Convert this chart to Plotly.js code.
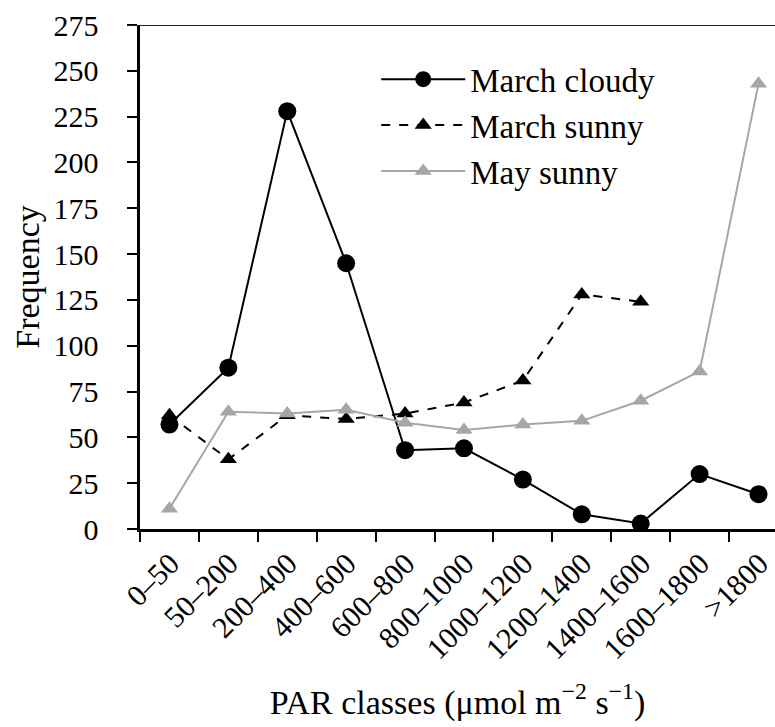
<!DOCTYPE html>
<html>
<head>
<meta charset="utf-8">
<script src="https://cdn.plot.ly/plotly-3.0.1.min.js"></script>
<style>html,body{margin:0;padding:0;background:#fff;}#chart{width:775px;height:727px;}</style>
</head>
<body>
<div id="chart"></div>
<script>
const categories = ["0–50","50–200","200–400","400–600","600–800","800–1000","1000–1200","1200–1400","1400–1600","1600–1800",">1800"];
const marchCloudy = [57, 88, 228, 145, 43, 44, 27, 8, 3, 30, 19];
const marchSunny = [62, 38, 62, 60, 63, 69, 81, 128, 124, null, null];
const maySunny = [11, 64, 63, 65, 58, 54, 57, 59, 70, 86, 243];
const yTicks = [0,25,50,75,100,125,150,175,200,225,250,275];

const serif = "Liberation Serif, Times New Roman, serif";
const pad = "\u00a0\u00a0\u00a0";

const traces = [
  {x: categories, y: marchCloudy, name: "March cloudy", legendgroup: "a", type: "scatter", mode: "lines+markers",
   line: {color: "#000", width: 2}, marker: {symbol: "circle", size: 18, color: "#000"}},
  {x: categories, y: marchSunny, name: "March sunny", legendgroup: "b", type: "scatter", mode: "lines+markers",
   line: {color: "#000", width: 2, dash: "dash"}, marker: {symbol: "triangle-up", size: 15, color: "#000"}},
  {x: categories, y: maySunny, name: "May sunny", legendgroup: "c", type: "scatter", mode: "lines+markers",
   line: {color: "#a6a6a6", width: 2}, marker: {symbol: "triangle-up", size: 15, color: "#a6a6a6"}}
];

const layout = {
  width: 775, height: 727,
  margin: {l: 140, r: 0, t: 25, b: 198},
  paper_bgcolor: "#fff", plot_bgcolor: "#fff",
  font: {family: serif, size: 24, color: "#000"},
  showlegend: true,
  legend: {x: 0.372, y: 0.948, xanchor: "left", yanchor: "top", bgcolor: "rgba(0,0,0,0)",
           font: {family: serif, size: 33, color: "#000"}, itemwidth: 84, tracegroupgap: 0},
  xaxis: {
    type: "category", categoryorder: "array", categoryarray: categories,
    range: [-0.5, 10.28], tickson: "boundaries", ticks: "outside", ticklen: 10, tickwidth: 2,
    tickcolor: "#000", showline: true, linecolor: "#000", linewidth: 3, showgrid: false, zeroline: false,
    tickangle: -45, tickfont: {family: serif, size: 30}, ticklabelshift: 1, ticklabelstandoff: 2,
    title: {text: "PAR classes (μmol m<sup>−2</sup> s<sup>−1</sup>)", font: {family: serif, size: 34}, standoff: 26}
  },
  yaxis: {
    range: [0, 275], tickvals: yTicks, ticktext: yTicks.map(v => String(v) + pad),
    ticks: "outside", ticklen: 10, tickwidth: 2, tickcolor: "#000",
    showline: true, linecolor: "#000", linewidth: 3, showgrid: false, zeroline: false,
    tickfont: {family: serif, size: 30},
    title: {text: "Frequency", font: {family: serif, size: 34}, standoff: 4}
  },
  shapes: [
    {type: "line", xref: "paper", yref: "y", x0: -0.02, x1: 1, y0: 275, y1: 275,
     line: {color: "#222", width: 2}}
  ]
};

Plotly.newPlot("chart", traces, layout, {displayModeBar: false, staticPlot: true});
</script>
</body>
</html>
